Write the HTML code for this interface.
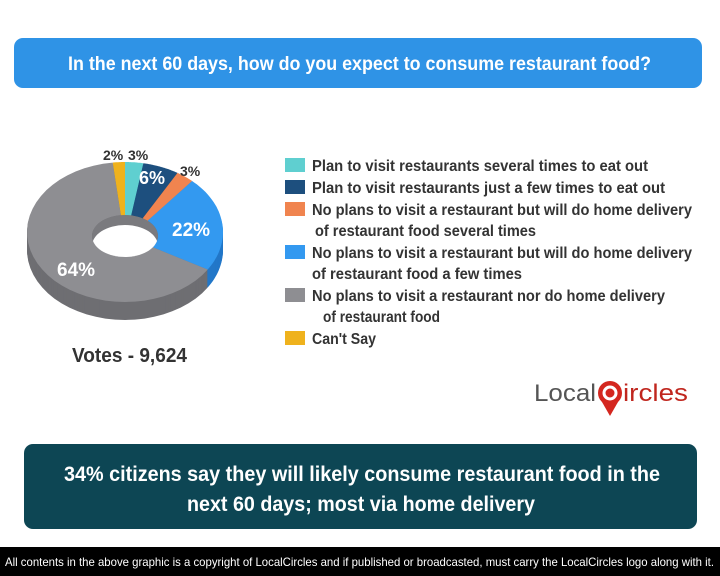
<!DOCTYPE html>
<html><head><meta charset="utf-8"><style>
html,body{margin:0;padding:0;background:#fff;width:720px;height:576px;overflow:hidden}
svg{display:block}
text{font-family:"Liberation Sans Narrow","Liberation Sans",sans-serif;font-weight:bold}
</style></head><body>
<svg id="s" width="720" height="576" viewBox="0 0 720 576" xmlns="http://www.w3.org/2000/svg">
<rect x="14" y="38" width="688" height="50" rx="9" fill="#2f93e6"/>
<text x="68" y="70" font-size="19" fill="#fff" textLength="583" lengthAdjust="spacingAndGlyphs">In the next 60 days, how do you expect to consume restaurant food?</text>
<g id="pie"></g>
<text x="72" y="362" font-size="20" fill="#333" textLength="115" lengthAdjust="spacingAndGlyphs">Votes - 9,624</text>
<g font-size="16" fill="#333">
<rect x="285" y="158" width="20" height="14" fill="#5fcfd0"/>
<text x="312" y="171" textLength="336" lengthAdjust="spacingAndGlyphs">Plan to visit restaurants several times to eat out</text>
<rect x="285" y="180" width="20" height="14" fill="#1d4f7e"/>
<text x="312" y="193" textLength="353" lengthAdjust="spacingAndGlyphs">Plan to visit restaurants just a few times to eat out</text>
<rect x="285" y="202" width="20" height="14" fill="#f0844f"/>
<text x="312" y="215" textLength="380" lengthAdjust="spacingAndGlyphs">No plans to visit a restaurant but will do home delivery</text>
<text x="315" y="236" textLength="221" lengthAdjust="spacingAndGlyphs">of restaurant food several times</text>
<rect x="285" y="245" width="20" height="14" fill="#3399f0"/>
<text x="312" y="258" textLength="380" lengthAdjust="spacingAndGlyphs">No plans to visit a restaurant but will do home delivery</text>
<text x="312" y="279" textLength="210" lengthAdjust="spacingAndGlyphs">of restaurant food a few times</text>
<rect x="285" y="288" width="20" height="14" fill="#8e8e92"/>
<text x="312" y="301" textLength="353" lengthAdjust="spacingAndGlyphs">No plans to visit a restaurant nor do home delivery</text>
<text x="323" y="322" textLength="117" lengthAdjust="spacingAndGlyphs">of restaurant food</text>
<rect x="285" y="331" width="20" height="14" fill="#efb21d"/>
<text x="312" y="344" textLength="64" lengthAdjust="spacingAndGlyphs">Can't Say</text>
</g>
<g>
<text x="534" y="401" font-size="24" fill="#555" style="font-weight:normal;font-family:'Liberation Sans',sans-serif" textLength="62" lengthAdjust="spacingAndGlyphs">Local</text>
<circle cx="610" cy="393" r="12" fill="#d4271f"/>
<circle cx="610" cy="393" r="6" fill="none" stroke="#fff" stroke-width="3"/>
<path d="M602 402 L610 416 L618 402 Z" fill="#d4271f"/>
<text x="623" y="401" font-size="24" fill="#c0261e" style="font-weight:normal;font-family:'Liberation Sans',sans-serif" textLength="65" lengthAdjust="spacingAndGlyphs">ircles</text>
</g>
<rect x="24" y="444" width="673" height="85" rx="9" fill="#0d4654"/>
<text x="64" y="481" font-size="21" fill="#fff" textLength="596" lengthAdjust="spacingAndGlyphs">34% citizens say they will likely consume restaurant food in the</text>
<text x="187" y="511" font-size="21" fill="#fff" textLength="348" lengthAdjust="spacingAndGlyphs">next 60 days; most via home delivery</text>
<rect x="0" y="547" width="720" height="29" fill="#000"/>
<text x="5" y="566" font-size="12" fill="#fff" style="font-weight:normal" textLength="709" lengthAdjust="spacingAndGlyphs">All contents in the above graphic is a copyright of LocalCircles and if published or broadcasted, must carry the LocalCircles logo along with it.</text>
</svg>
<script>
(function(){
var NS="http://www.w3.org/2000/svg",g=document.getElementById('pie');
var cx=125,cy=232,rx=98,ry=70,T=18,hrx=33,hry=21,hcy=236;
var sl=[[2,'#efb21d','#c38e12'],[3,'#5fcfd0','#44a8a9'],[6,'#1d4f7e','#133a5e'],[3,'#f0844f','#c8673a'],[22,'#3399f0','#2277c8'],[64,'#8e8e92','#6e6e72']];
function pt(a,r1,r2,c){var t=a*Math.PI/180;return [cx+r1*Math.sin(t),c-r2*Math.cos(t)];}
function sector(a0,a1,oy){var p=[],n=40,i;for(i=0;i<=n;i++){var a=a0+(a1-a0)*i/n;p.push(pt(a,rx,ry,cy+oy));}
for(i=n;i>=0;i--){var a=a0+(a1-a0)*i/n;p.push(pt(a,hrx,hry,hcy+oy));}
return 'M'+p.map(function(q){return q[0].toFixed(1)+' '+q[1].toFixed(1)}).join('L')+'Z';}
function add(d,f){var e=document.createElementNS(NS,'path');e.setAttribute('d',d);e.setAttribute('fill',f);g.appendChild(e);}
var a=-7.2,ang=[];sl.forEach(function(s){var b=a+s[0]*3.6;ang.push([a,b]);a=b;});
for(var t=T;t>=1;t--){sl.forEach(function(s,i){add(sector(ang[i][0],ang[i][1],t),s[2]);});}
sl.forEach(function(s,i){add(sector(ang[i][0],ang[i][1],0),s[1]);});
var e=document.createElementNS(NS,'ellipse');e.setAttribute('cx',cx);e.setAttribute('cy',hcy);e.setAttribute('rx',hrx);e.setAttribute('ry',hry);e.setAttribute('fill','#7a7a7e');g.appendChild(e);
var cp=document.createElementNS(NS,'clipPath');cp.setAttribute('id','hc');var ce=document.createElementNS(NS,'ellipse');ce.setAttribute('cx',cx);ce.setAttribute('cy',hcy);ce.setAttribute('rx',hrx);ce.setAttribute('ry',hry);cp.appendChild(ce);g.appendChild(cp);
var w=document.createElementNS(NS,'ellipse');w.setAttribute('cx',cx);w.setAttribute('cy',hcy+10);w.setAttribute('rx',hrx);w.setAttribute('ry',hry);w.setAttribute('fill','#fff');w.setAttribute('clip-path','url(#hc)');g.appendChild(w);
function lab(x,y,s,txt,c){var e=document.createElementNS(NS,'text');e.setAttribute('x',x);e.setAttribute('y',y);e.setAttribute('font-size',s);e.setAttribute('fill',c);e.textContent=txt;g.appendChild(e);}
lab(103,160,14,'2%','#333');lab(128,160,14,'3%','#333');lab(139,184,18,'6%','#fff');lab(180,176,14,'3%','#333');
lab(172,236,19,'22%','#fff');lab(57,276,19,'64%','#fff');
})();
</script>
</body></html>
